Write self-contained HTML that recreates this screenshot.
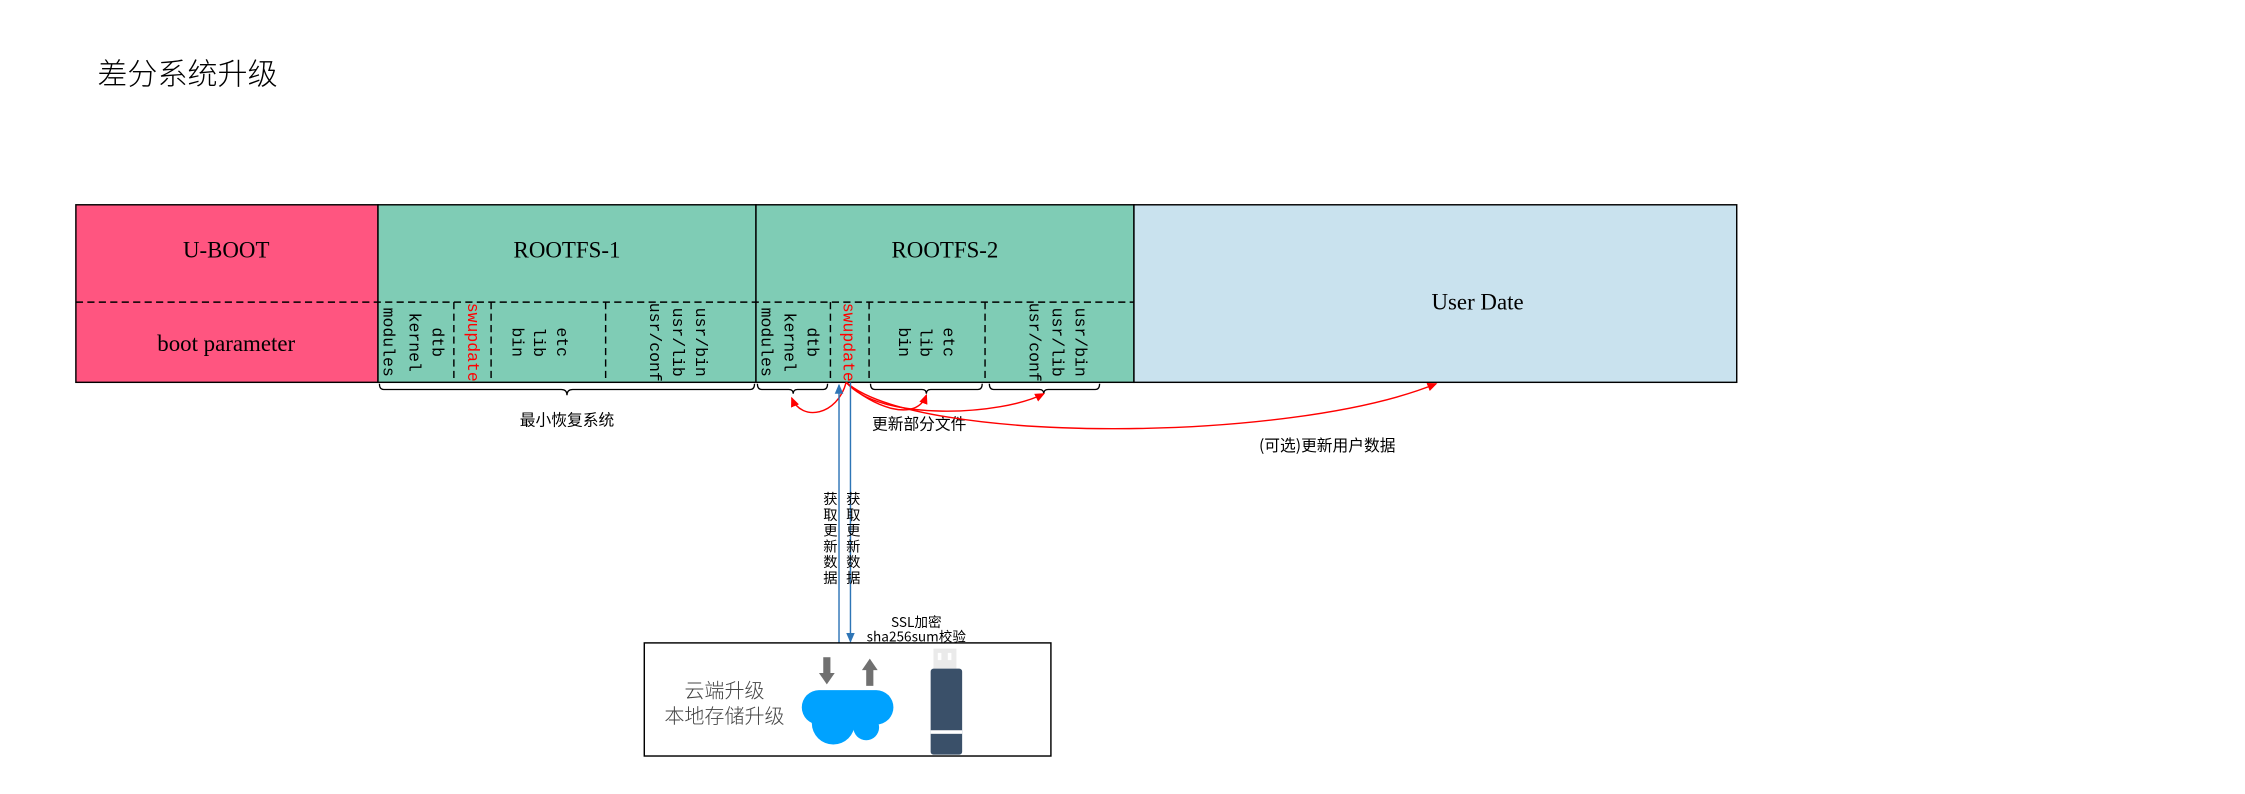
<!DOCTYPE html>
<html><head><meta charset="utf-8"><style>html,body{margin:0;padding:0;background:#fff}svg{display:block}</style></head>
<body>
<svg width="2245" height="794" viewBox="0 0 1568 554.5" xmlns="http://www.w3.org/2000/svg" font-family="Liberation Sans, Noto Sans CJK SC, sans-serif">
<defs>
<marker id="ar" markerWidth="8" markerHeight="8" refX="6" refY="4" orient="auto" markerUnits="userSpaceOnUse"><path d="M0,1 L7,4 L0,7 z" fill="#f00"/></marker>
<marker id="ab" markerWidth="8" markerHeight="8" refX="6" refY="4" orient="auto" markerUnits="userSpaceOnUse"><path d="M0,1 L7,4 L0,7 z" fill="#2E75B6"/></marker>
</defs>
<text x="68" y="59" font-size="21" font-family="Noto Sans CJK SC, sans-serif" font-weight="300">差分系统升级</text>
<rect x="53" y="143" width="211" height="124" fill="#FF5580" stroke="#000" stroke-width="1"/>
<rect x="264" y="143" width="264" height="124" fill="#7FCCB5" stroke="#000" stroke-width="1"/>
<rect x="528" y="143" width="264" height="124" fill="#7FCCB5" stroke="#000" stroke-width="1"/>
<rect x="792" y="143" width="421" height="124" fill="#C9E2EE" stroke="#000" stroke-width="1"/>
<line x1="53" y1="211" x2="792" y2="211" stroke="#000" stroke-dasharray="5,3"/>
<g stroke="#000" stroke-dasharray="5,3">
<line x1="317" y1="211" x2="317" y2="267"/><line x1="343" y1="211" x2="343" y2="267"/><line x1="423" y1="211" x2="423" y2="267"/>
<line x1="580" y1="211" x2="580" y2="267"/><line x1="607" y1="211" x2="607" y2="267"/><line x1="688" y1="211" x2="688" y2="267"/>
</g>
<g font-family="Liberation Serif, serif" font-size="16" text-anchor="middle">
<text x="158" y="180">U-BOOT</text>
<text x="396" y="180">ROOTFS-1</text>
<text x="660" y="180">ROOTFS-2</text>
<text x="158" y="245">boot parameter</text>
<text x="1032" y="216">User Date</text>
</g>
<g font-family="Liberation Mono, monospace" font-size="11.5" text-anchor="middle">
<text transform="translate(268,239) rotate(90)">modules</text>
<text transform="translate(286,239) rotate(90)">kernel</text>
<text transform="translate(302,239) rotate(90)">dtb</text>
<text transform="translate(327,239) rotate(90)" fill="#f00">swupdate</text>
<text transform="translate(358,239) rotate(90)">bin</text>
<text transform="translate(373,239) rotate(90)">lib</text>
<text transform="translate(389,239) rotate(90)">etc</text>
<text transform="translate(454,239) rotate(90)">usr/conf</text>
<text transform="translate(470,239) rotate(90)">usr/lib</text>
<text transform="translate(486,239) rotate(90)">usr/bin</text>
<text transform="translate(532,239) rotate(90)">modules</text>
<text transform="translate(548,239) rotate(90)">kernel</text>
<text transform="translate(564,239) rotate(90)">dtb</text>
<text transform="translate(589,239) rotate(90)" fill="#f00">swupdate</text>
<text transform="translate(628,239) rotate(90)">bin</text>
<text transform="translate(643,239) rotate(90)">lib</text>
<text transform="translate(659,239) rotate(90)">etc</text>
<text transform="translate(719,239) rotate(90)">usr/conf</text>
<text transform="translate(735,239) rotate(90)">usr/lib</text>
<text transform="translate(751,239) rotate(90)">usr/bin</text>
</g>
<g fill="none" stroke="#000" stroke-width="0.9">
<path d="M265,268 q0,4 3,4 h124 q4,0 4,4 q0,-4 4,-4 h124 q3,0 3,-4"/>
<path d="M529,268 q0,4 3,4 h19 q3,0 3,3 q0,-3 3,-3 h18 q3,0 3,-4"/>
<path d="M608,268 q0,4 3,4 h33 q3,0 3,3 q0,-3 3,-3 h33 q3,0 3,-4"/>
<path d="M691,268 q0,4 3,4 h32 q3,0 3,3 q0,-3 3,-3 h33 q3,0 3,-4"/>
</g>
<g font-size="11" text-anchor="middle" font-family="Noto Sans CJK SC, sans-serif">
<text x="396" y="297">最小恢复系统</text>
<text x="642" y="300">更新部分文件</text>
<text x="927" y="315">(可选)更新用户数据</text>
</g>
<g fill="none" stroke="#f00" stroke-width="1">
<path d="M591,267 C585,290 560,295 553,278" marker-end="url(#ar)"/>
<path d="M591,267 C610,285 640,295 647,276" marker-end="url(#ar)"/>
<path d="M591,267 C615,295 700,290 729,275" marker-end="url(#ar)"/>
<path d="M591,267 C640,310 900,310 1003,268" marker-end="url(#ar)"/>
</g>
<g stroke="#2E75B6" stroke-width="1" fill="none">
<line x1="586" y1="449" x2="586" y2="269" marker-end="url(#ab)"/>
<line x1="594" y1="267" x2="594" y2="448" marker-end="url(#ab)"/>
</g>
<g font-size="10" text-anchor="middle" font-family="Noto Sans CJK SC, sans-serif">
<text x="580" y="352">获</text><text x="580" y="363">取</text><text x="580" y="374">更</text><text x="580" y="385">新</text><text x="580" y="396">数</text><text x="580" y="407">据</text>
<text x="596" y="352">获</text><text x="596" y="363">取</text><text x="596" y="374">更</text><text x="596" y="385">新</text><text x="596" y="396">数</text><text x="596" y="407">据</text>
<text x="640" y="438" font-size="9.5">SSL加密</text>
<text x="640" y="448" font-size="9.5">sha256sum校验</text>
</g>
<rect x="450" y="449" width="284" height="79" fill="#fff" stroke="#000"/>
<g font-size="14" text-anchor="middle" fill="#444" font-family="Noto Sans CJK SC, sans-serif" font-weight="300">
<text x="506" y="487">云端升级</text>
<text x="506" y="505">本地存储升级</text>
</g>
<g fill="#00A2FF">
<rect x="560" y="482" width="64" height="24" rx="12"/>
<circle cx="582" cy="505" r="15"/>
<circle cx="605" cy="508" r="9"/>
</g>
<g fill="#707070">
<rect x="575" y="459" width="5" height="12"/><path d="M572,470 h11 l-5.5,8 z"/>
<rect x="605" y="467" width="5" height="12"/><path d="M602,468 h11 l-5.5,-8 z"/>
</g>
<rect x="652" y="453" width="16" height="14" fill="#eaeaea"/>
<rect x="655" y="456" width="2.5" height="5" fill="#fff"/><rect x="662" y="456" width="2.5" height="5" fill="#fff"/>
<rect x="650" y="467" width="22" height="60" rx="2" fill="#3A5069"/>
<rect x="650" y="510" width="22" height="2.5" fill="#fff"/>
</svg>
</body></html>
